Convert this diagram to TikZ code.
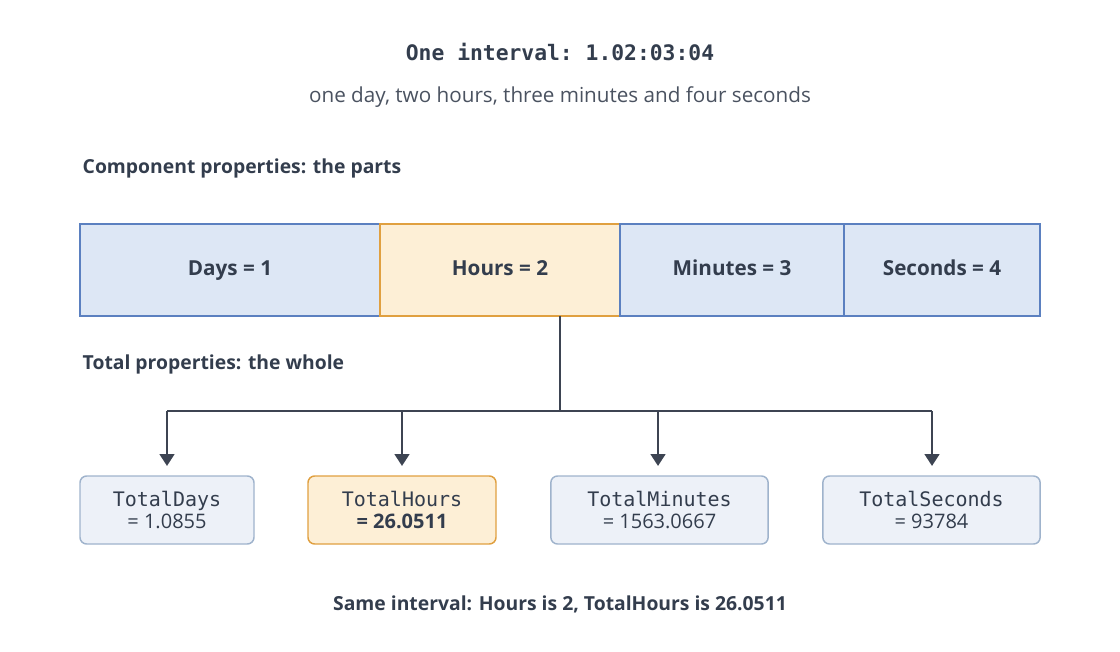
\documentclass[tikz,border=0pt]{standalone}
\usepackage{fontspec}
\setmainfont{Open Sans}
\setmonofont{DejaVu Sans Mono}
\usetikzlibrary{arrows.meta}
\definecolor{txt}{HTML}{333D4D}
\definecolor{sub}{HTML}{4A5260}
\definecolor{ln}{HTML}{3D4452}
\definecolor{bfill}{HTML}{DDE7F5}
\definecolor{bdraw}{HTML}{5B80C0}
\definecolor{ofill}{HTML}{FDEFD6}
\definecolor{odraw}{HTML}{E0A040}
\definecolor{gfill}{HTML}{EDF1F8}
\definecolor{gdraw}{HTML}{9FB3CC}
\begin{document}
\begin{tikzpicture}[x=0.75pt,y=-0.75pt,
  cell/.style={draw=bdraw,fill=bfill,line width=1.2pt,minimum height=69pt,inner sep=0pt,text height=11pt,text depth=3pt,font=\fontsize{15.5}{18}\selectfont\bfseries,text=txt},
  ocell/.style={cell,draw=odraw,fill=ofill},
  tot/.style={draw=gdraw,fill=gfill,line width=1.1pt,rounded corners=5pt,minimum height=51pt,inner sep=0pt,align=center,text=txt,font=\fontsize{15}{17}\selectfont},
  otot/.style={tot,draw=odraw,fill=ofill},
  head/.style={anchor=west,font=\fontsize{14.5}{17}\selectfont\bfseries,text=txt},
  conn/.style={draw=ln,line width=2pt},
  arr/.style={conn,-{Triangle[length=9pt,width=11pt]}}]
\useasboundingbox (0,0) rectangle (1120,652);
\node[font=\ttfamily\fontsize{16}{18}\selectfont\bfseries,text=txt] (title) at (560,52) {One interval: 1.02:03:04};
\node[font=\fontsize{15.5}{18}\selectfont,text=sub] (subt) at (560,97) {one day, two hours, three minutes and four seconds};
\node[head] (h1) at (78,168) {Component properties: the parts};
\node[cell,minimum width=225pt] (days) at (230,270) {Days = 1};
\node[ocell,minimum width=180pt] (hours) at (500,270) {Hours = 2};
\node[cell,minimum width=168pt] (mins) at (732,270) {Minutes = 3};
\node[cell,minimum width=147pt] (secs) at (942,270) {Seconds = 4};
\node[head] (h2) at (78,364) {Total properties: the whole};
\node[tot,minimum width=130.5pt] (td) at (167,510) {\texttt{TotalDays}\\= 1.0855};
\node[otot,minimum width=141pt] (th) at (402,510) {\texttt{TotalHours}\\\textbf{= 26.0511}};
\node[tot,minimum width=163pt] (tm) at (659.5,510) {\texttt{TotalMinutes}\\= 1563.0667};
\node[tot,minimum width=163pt] (ts) at (931.5,510) {\texttt{TotalSeconds}\\= 93784};
\coordinate (j) at (560,411);
\coordinate (jd) at (167,411);
\coordinate (jh) at (402,411);
\coordinate (jm) at (658,411);
\coordinate (js) at (932,411);
\draw[conn] (560,316) -- (j);
\draw[conn] (jd) -- (js);
\draw[arr] (jd) -- (167,466);
\draw[arr] (jh) -- (402,466);
\draw[arr] (jm) -- (658,466);
\draw[arr] (js) -- (932,466);
\node[font=\fontsize{14.5}{17}\selectfont\bfseries,text=txt] (foot) at (560,604) {Same interval: Hours is 2, TotalHours is 26.0511};
\end{tikzpicture}
\end{document}
